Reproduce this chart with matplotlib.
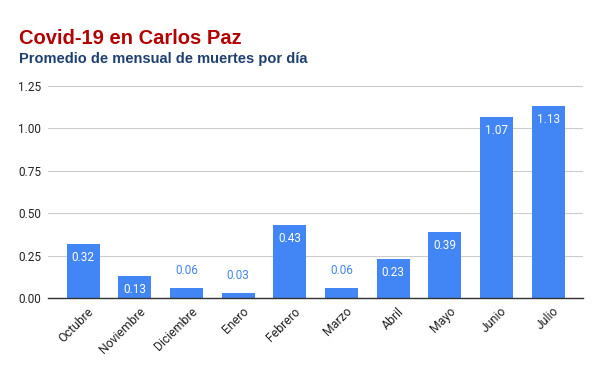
import matplotlib
matplotlib.use("Agg")
import matplotlib.pyplot as plt
from matplotlib.transforms import ScaledTranslation

months = ["Octubre", "Noviembre", "Diciembre", "Enero", "Febrero", "Marzo",
          "Abril", "Mayo", "Junio", "Julio"]
values = [0.32, 0.13, 0.06, 0.03, 0.43, 0.06, 0.23, 0.39, 1.07, 1.13]
yticks = [0.00, 0.25, 0.50, 0.75, 1.00, 1.25]

plt.rcParams['font.family'] = ['Roboto', 'DejaVu Sans']
BLUE = "#4285F4"

fig = plt.figure(figsize=(6, 3.71), dpi=100)
ax = fig.add_axes([0.08, 0.197, 0.892, 0.571])
x = list(range(len(months)))
bars = ax.bar(x, values, width=0.64, color=BLUE, zorder=2)

ax.set_xlim(-0.68, len(months) - 1 + 0.68)
ax.set_ylim(0, 1.25)
ax.set_yticks(yticks)
ax.set_yticklabels([f"{t:.2f}" for t in yticks], fontsize=8.5, color="#222222")
ax.set_xticks(x)
ax.set_xticklabels(months, rotation=45, ha="right", rotation_mode="anchor",
                   fontsize=8.8, color="#222222")
ax.tick_params(axis="both", length=0, pad=5)
offset = ScaledTranslation(4 / 100, 0, fig.dpi_scale_trans)
for lab in ax.get_xticklabels():
    lab.set_transform(lab.get_transform() + offset)
ax.grid(axis="y", color="#cccccc", linewidth=0.8, zorder=0)
for s in ["top", "right", "left"]:
    ax.spines[s].set_visible(False)
ax.spines["bottom"].set_color("#333333")
ax.spines["bottom"].set_linewidth(1.0)
ax.spines["bottom"].set_zorder(3)

for b, v in zip(bars, values):
    cx = b.get_x() + b.get_width() / 2
    if v >= 0.1:
        ax.annotate(f"{v:.2f}", (cx, v), xytext=(0, -5), textcoords="offset points",
                    ha="center", va="top", fontsize=8.5, color="white", zorder=4)
    else:
        ax.annotate(f"{v:.2f}", (cx, v), xytext=(0, 8), textcoords="offset points",
                    ha="center", va="bottom", fontsize=8.5, color=BLUE, zorder=4)

fig.text(0.031, 0.895, "Covid-19 en Carlos Paz", fontsize=14.5, fontweight="bold",
         color="#b30000", family=["Liberation Sans", "DejaVu Sans"], va="center")
fig.text(0.031, 0.842, "Promedio de mensual de muertes por día", fontsize=10.5,
         fontweight="bold", color="#1f3f73", family=["Liberation Sans", "DejaVu Sans"],
         va="center")

fig.savefig("out.png", dpi=100)
